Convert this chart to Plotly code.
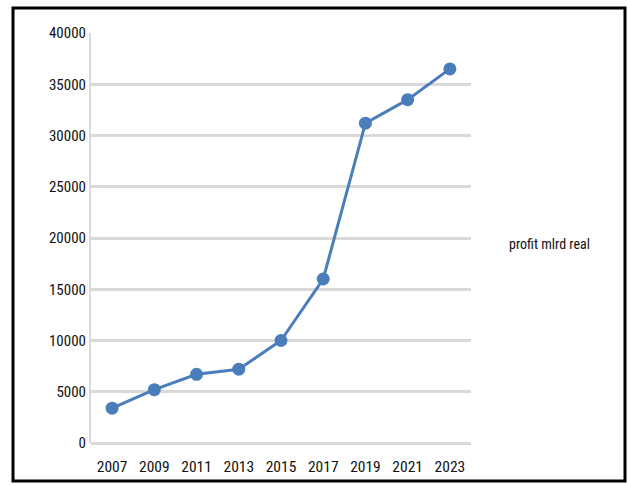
import plotly.graph_objects as go

years = ["2007", "2009", "2011", "2013", "2015", "2017", "2019", "2021", "2023"]
profit = [3400, 5200, 6700, 7200, 10000, 16000, 31200, 33500, 36500]
series_name = "profit mlrd real"
y_ticks = [0, 5000, 10000, 15000, 20000, 25000, 30000, 35000, 40000]

FONT = "Roboto Condensed, Liberation Sans Narrow, sans-serif"
BLUE = "#4a7ebb"
GRID = "#d9d9d9"
TXT = "#111111"

fig = go.Figure()
fig.add_trace(go.Scatter(
    x=years, y=profit, name=series_name, mode="lines+markers",
    line=dict(color=BLUE, width=3),
    marker=dict(color=BLUE, size=13, symbol="circle"),
    showlegend=False,
))

L, R, T, B = 91, 157, 33, 42
W, H = 628, 485
pw, ph = W - L - R, H - T - B

def px(x):
    return (x - L) / pw

def py(y):
    return (H - B - y) / ph

fig.update_layout(
    width=W, height=H,
    margin=dict(l=L, r=R, t=T, b=B, pad=0, autoexpand=False),
    paper_bgcolor="white", plot_bgcolor="white",
    font=dict(family=FONT, size=15, color=TXT),
    xaxis=dict(type="category", range=[-0.5, len(years) - 0.5], automargin=False,
               showgrid=False, showline=False, zeroline=False,
               ticks="", ticklabelstandoff=12,
               tickfont=dict(family=FONT, size=15.5, color=TXT)),
    yaxis=dict(range=[0, 40000], tickvals=y_ticks, ticktext=[str(v) for v in y_ticks],
               automargin=False,
               showgrid=True, gridcolor=GRID, gridwidth=3,
               showline=True, linecolor=GRID, linewidth=2,
               zeroline=True, zerolinecolor=GRID, zerolinewidth=3,
               ticks="", ticklabelstandoff=0,
               tickfont=dict(family=FONT, size=15, color=TXT)),
    shapes=[dict(type="rect", xref="paper", yref="paper",
                 x0=px(13), x1=px(625), y0=py(481), y1=py(8),
                 line=dict(color="black", width=3), layer="above")],
    annotations=[dict(text=series_name, xref="paper", yref="paper",
                      x=px(549), y=py(244), showarrow=False,
                      xanchor="center", yanchor="middle",
                      font=dict(family=FONT, size=14, color=TXT))],
)

fig.write_html("out.html", config={"displayModeBar": False},
               post_script="document.body.style.margin='0';")
